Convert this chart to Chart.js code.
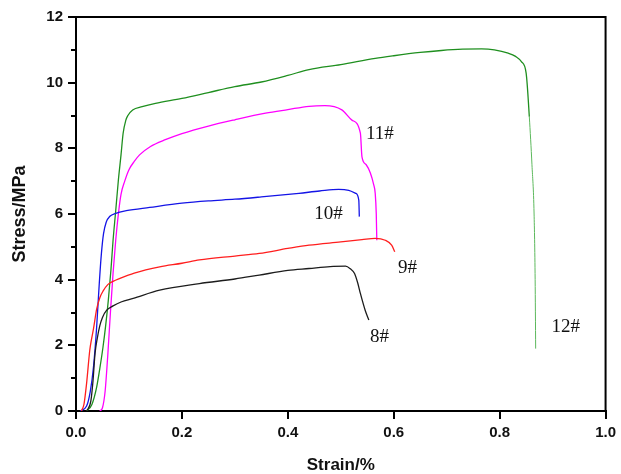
<!DOCTYPE html>
<html>
<head>
<meta charset="utf-8">
<script src="https://cdn.jsdelivr.net/npm/chart.js@4/dist/chart.umd.min.js"></script>
<style>
  html, body { margin: 0; padding: 0; background: #fff; }
  #wrap { width: 621px; height: 474px; position: relative; }
</style>
</head>
<body>
<div id="wrap"><canvas id="c" width="621" height="474"></canvas></div>
<script>
// ---- Data ----
const seriesNames = ['8#', '9#', '10#', '11#', '12#'];

const strain8 = [0.02, 0.028, 0.032, 0.036, 0.040, 0.045, 0.05, 0.058, 0.07, 0.085, 0.108, 0.158, 0.233, 0.3, 0.346, 0.4, 0.44, 0.48, 0.509, 0.518, 0.526, 0.532, 0.537, 0.546, 0.553];
const stress8 = [0, 0.3, 0.9, 1.76, 2.2, 2.6, 2.85, 3.07, 3.2, 3.32, 3.43, 3.68, 3.88, 4.02, 4.14, 4.28, 4.34, 4.4, 4.41, 4.33, 4.19, 3.9, 3.58, 3.07, 2.77];

const strain9 = [0.01, 0.015, 0.02, 0.026, 0.029, 0.033, 0.039, 0.045, 0.051, 0.06, 0.07, 0.083, 0.11, 0.158, 0.2, 0.233, 0.3, 0.346, 0.4, 0.44, 0.5, 0.54, 0.565, 0.584, 0.596, 0.602];
const stress9 = [0, 0.2, 0.84, 1.85, 2.16, 2.5, 3.1, 3.45, 3.65, 3.85, 3.95, 4.04, 4.2, 4.39, 4.5, 4.6, 4.72, 4.8, 4.95, 5.05, 5.15, 5.22, 5.26, 5.2, 5.05, 4.85];

const strain10 = [0.008, 0.02, 0.027, 0.033, 0.039, 0.044, 0.048, 0.052, 0.057, 0.064, 0.075, 0.095, 0.139, 0.2, 0.25, 0.3, 0.35, 0.421, 0.46, 0.496, 0.515, 0.528, 0.534, 0.535];
const stress10 = [0, 0.15, 0.6, 1.34, 2.56, 3.9, 4.8, 5.4, 5.75, 5.93, 6.02, 6.1, 6.2, 6.33, 6.4, 6.45, 6.52, 6.63, 6.7, 6.75, 6.72, 6.63, 6.42, 5.92];

const strain11 = [0.045, 0.05, 0.055, 0.06, 0.065, 0.07, 0.075, 0.08, 0.085, 0.092, 0.1, 0.11, 0.12, 0.14, 0.17, 0.2, 0.25, 0.3, 0.358, 0.4, 0.44, 0.47, 0.502, 0.521, 0.537, 0.540, 0.548, 0.556, 0.562, 0.565, 0.567, 0.568];
const stress11 = [0, 0.1, 0.6, 1.7, 3.0, 4.2, 5.2, 6.0, 6.6, 7.0, 7.35, 7.6, 7.8, 8.05, 8.27, 8.45, 8.68, 8.87, 9.07, 9.18, 9.28, 9.3, 9.17, 8.86, 8.46, 7.74, 7.5, 7.24, 6.9, 6.63, 6.0, 5.2];

const strain12 = [0.02, 0.03, 0.039, 0.045, 0.051, 0.056, 0.061, 0.066, 0.070, 0.075, 0.080, 0.085, 0.089, 0.094, 0.098, 0.107, 0.125, 0.15, 0.2, 0.25, 0.3, 0.35, 0.4, 0.44, 0.5, 0.565, 0.6, 0.65, 0.69, 0.73, 0.766, 0.79, 0.816, 0.83, 0.841, 0.85, 0.856, 0.861, 0.865, 0.867, 0.868];
const stress12 = [0, 0.2, 0.73, 1.3, 1.95, 2.6, 3.37, 4.3, 5.2, 6.1, 7.03, 7.8, 8.46, 8.85, 9.0, 9.17, 9.27, 9.37, 9.52, 9.7, 9.88, 10.02, 10.22, 10.4, 10.55, 10.74, 10.82, 10.92, 10.98, 11.02, 11.03, 11.0, 10.9, 10.8, 10.64, 10.29, 8.96, 7.5, 6.0, 4.0, 1.9];

// Curve annotation labels (data coordinates)
const labelText = ['8#', '9#', '10#', '11#', '12#'];
const labelStrain = [0.573, 0.626, 0.477, 0.574, 0.925];
const labelStress = [2.26, 4.37, 6.01, 8.44, 2.57];

const xTicks = [0, 0.2, 0.4, 0.6, 0.8, 1.0];
const yTicks = [0, 2, 4, 6, 8, 10, 12];
const yMinorTicks = [1, 3, 5, 7, 9, 11];

// ---- Build ----
const colors = ['#1c1c1c', '#ff1e1e', '#1414e6', '#ff00ff', '#1f8f1f'];
const strains = [strain8, strain9, strain10, strain11, strain12];
const stresses = [stress8, stress9, stress10, stress11, stress12];

const datasets = seriesNames.map((n, i) => ({
  label: n,
  data: strains[i].map((x, j) => ({ x: x, y: stresses[i][j] })),
  borderColor: colors[i],
  backgroundColor: colors[i],
  borderWidth: 1.3,
  showLine: true,
  pointRadius: 0,
  cubicInterpolationMode: 'monotone',
  fill: false,
  segment: i === 4 ? {
    borderColor: c => (c.p0.parsed.y < 9.5 && c.p0.parsed.x > 0.5) ? '#5cb85c' : undefined,
    borderWidth: c => (c.p0.parsed.y < 9.5 && c.p0.parsed.x > 0.5) ? 1 : undefined
  } : undefined
}));

const framePlugin = {
  id: 'frame',
  afterDraw(chart) {
    const ctx = chart.ctx;
    const a = chart.chartArea;
    const ys = chart.scales.y;
    ctx.save();
    ctx.strokeStyle = '#000';
    ctx.lineWidth = 2;
    ctx.beginPath();
    ctx.moveTo(a.left, a.top);
    ctx.lineTo(a.right, a.top);
    ctx.lineTo(a.right, a.bottom);
    ctx.stroke();
    // minor y ticks
    yMinorTicks.forEach(v => {
      const py = Math.round(ys.getPixelForValue(v));
      ctx.beginPath();
      ctx.moveTo(a.left, py);
      ctx.lineTo(a.left - 5, py);
      ctx.stroke();
    });
    // labels
    ctx.fillStyle = '#111';
    ctx.font = '19px "Liberation Serif", "Times New Roman", serif';
    ctx.textAlign = 'center';
    ctx.textBaseline = 'middle';
    labelText.forEach((t, i) => {
      ctx.fillText(t, chart.scales.x.getPixelForValue(labelStrain[i]), ys.getPixelForValue(labelStress[i]));
    });
    ctx.restore();
  }
};

new Chart(document.getElementById('c'), {
  type: 'scatter',
  data: { datasets },
  options: {
    responsive: false,
    animation: false,
    layout: { padding: { left: 0, right: 13, top: 17, bottom: 0 } },
    plugins: { legend: { display: false }, tooltip: { enabled: false } },
    scales: {
      x: {
        type: 'linear', min: 0, max: 1,
        afterBuildTicks(s) { s.ticks = xTicks.map(v => ({ value: v })); },
        afterFit(s) { s.height = 63; },
        grid: { drawOnChartArea: false, drawTicks: true, tickLength: 8, lineWidth: 2, color: '#000' },
        border: { display: true, color: '#000', width: 2 },
        ticks: {
          color: '#111', padding: 5,
          font: { family: '"Liberation Sans", Arial, sans-serif', size: 15, weight: 'bold' },
          callback: v => v.toFixed(1)
        },
        title: {
          display: true, text: 'Strain/%', color: '#111',
          font: { family: '"Liberation Sans", Arial, sans-serif', size: 17, weight: 'bold', lineHeight: 1.0 },
          padding: { top: 0, bottom: 0 }
        }
      },
      y: {
        type: 'linear', min: 0, max: 12,
        afterBuildTicks(s) { s.ticks = yTicks.map(v => ({ value: v })); },
        afterFit(s) { s.width = 76; },
        grid: { drawOnChartArea: false, drawTicks: true, tickLength: 8, lineWidth: 2, color: '#000' },
        border: { display: true, color: '#000', width: 2 },
        ticks: {
          color: '#111', padding: 5,
          font: { family: '"Liberation Sans", Arial, sans-serif', size: 15, weight: 'bold' },
          callback: v => String(v)
        },
        title: {
          display: true, text: 'Stress/MPa', color: '#111',
          font: { family: '"Liberation Sans", Arial, sans-serif', size: 18, weight: 'bold', lineHeight: 1.0 },
          padding: { top: 11, bottom: 0 }
        }
      }
    }
  },
  plugins: [framePlugin]
});
</script>
</body>
</html>
